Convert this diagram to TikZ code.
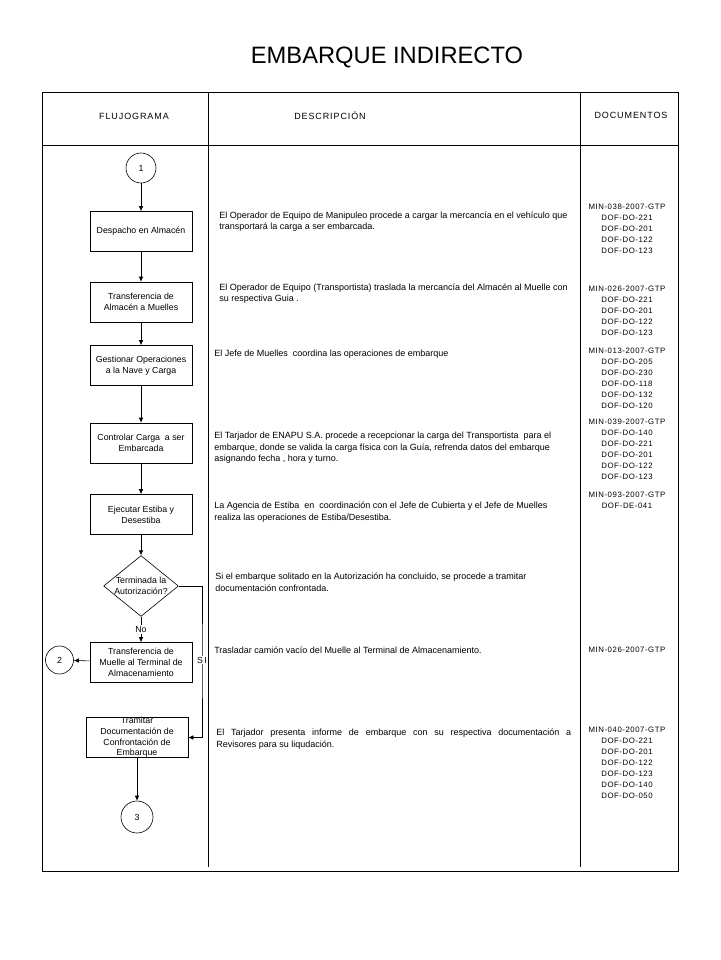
\documentclass[tikz,border=0pt]{standalone}
\usepackage{fontspec}
\setmainfont{Liberation Sans}
\usetikzlibrary{shapes.geometric,arrows.meta,positioning}

\begin{document}
\begin{tikzpicture}[
    x=1pt, y=-1pt,
    line width=0.6pt,
    proc/.style={rectangle, draw, align=center, minimum width=102pt, minimum height=40pt, inner sep=1pt, font=\fontsize{8.8}{11}\selectfont},
    conn/.style={circle, draw, minimum size=30pt, inner sep=0pt, font=\fontsize{8.8}{11}\selectfont},
    decide/.style={diamond, draw, align=center, aspect=1.23, inner sep=0pt, font=\fontsize{8.8}{11}\selectfont},
    flow/.style={draw, -{Latex[length=5pt,width=4.5pt]}},
    lbl/.style={fill=white, inner sep=1pt, font=\fontsize{8.8}{11}\selectfont},
    head/.style={anchor=base, font=\fontsize{9}{11}\selectfont\addfontfeature{LetterSpace=10}},
    desc/.style={anchor=north west, align=left, inner sep=0pt, font=\fontsize{9}{11.3}\selectfont},
    docs/.style={anchor=north, align=center, inner sep=0pt, font=\fontsize{7.8}{11}\selectfont\addfontfeature{LetterSpace=7}}
]
\useasboundingbox (0,0) rectangle (720,960);

% title and table frame
\node [anchor=base] (title) at (387,64) {\fontsize{23.7}{28}\selectfont EMBARQUE INDIRECTO};
\draw (42,92) rectangle (678,871);
\draw (42,145) -- (678,145);
\draw (208,92) -- (208,867);
\draw (580,92) -- (580,867);
\node [head] (hflujo) at (134,120) {FLUJOGRAMA};
\node [head] (hdesc) at (330,120) {DESCRIPCIÓN};
\node [head] (hdocs) at (631,118.5) {DOCUMENTOS};

% flujograma
\node [conn] (c1) at (141,168) {1};
\node [proc] (despacho) at (141,231.5) {Despacho en Almacén};
\node [proc] (transfalm) at (141,302) {Transferencia de\\Almacén a Muelles};
\node [proc] (gestionar) at (141,365.5) {Gestionar Operaciones\\a la Nave y Carga};
\node [proc] (controlar) at (141,443) {Controlar Carga \ a ser\\Embarcada};
\node [proc] (ejecutar) at (141,514.5) {Ejecutar Estiba y\\Desestiba};
\node [decide] (terminada) at (141,586) {Terminada la\\Autorización?};
\node [proc] (transfmue) at (141,662.5) {Transferencia de\\Muelle al Terminal de\\Almacenamiento};
\node [conn, minimum size=28pt] (c2) at (59.5,660) {2};
\node [proc, inner ysep=0pt, font=\fontsize{8.8}{10.6}\selectfont] (tramitar) at (137,737.5) {Tramitar\\Documentación de\\Confrontación de\\Embarque};
\node [conn, minimum size=32pt] (c3) at (137,817) {3};
\coordinate (sicol) at (202,660);

\draw [flow] (c1) -- (despacho);
\draw [flow] (despacho) -- (transfalm);
\draw [flow] (transfalm) -- (gestionar);
\draw [flow] (gestionar) -- (controlar);
\draw [flow] (controlar) -- (ejecutar);
\draw [flow] (ejecutar) -- (terminada);
\draw [flow] (terminada) -- node [lbl] (no) {No} (transfmue);
\draw [flow] (transfmue) -- (c2);
\draw [flow] (terminada.east) -| (sicol) |- (tramitar.east);
\node [lbl] (si) at (sicol) {S\,I};
\draw [flow] (tramitar) -- (c3);

% descripcion
\node [desc] (d1) at (219,211.5) {El Operador de Equipo de Manipuleo procede a cargar la mercancía en el vehículo que\\transportará la carga a ser embarcada.};
\node [desc] (d2) at (219,283.5) {El Operador de Equipo (Transportista) traslada la mercancía del Almacén al Muelle con\\su respectiva Guia .};
\node [desc] (d3) at (214,350) {El Jefe de Muelles \ coordina las operaciones de embarque};
\node [desc] (d4) at (214,432) {El Tarjador de ENAPU S.A. procede a recepcionar la carga del Transportista \ para el\\embarque, donde se valida la carga física con la Guía, refrenda datos del embarque\\asignando fecha , hora y turno.};
\node [desc] (d5) at (214,502) {La Agencia de Estiba \ en \ coordinación con el Jefe de Cubierta y el Jefe de Muelles\\realiza las operaciones de Estiba/Desestiba.};
\node [desc] (d6) at (215,573) {Si el embarque solitado en la Autorización ha concluido, se procede a tramitar\\documentación confrontada.};
\node [desc] (d7) at (214,647) {Trasladar camión vacío del Muelle al Terminal de Almacenamiento.};
\node [desc] (d8) at (216,729) {\makebox[355pt][s]{El Tarjador presenta informe de embarque con su respectiva documentación a}\\Revisores para su liqudación.};

% documentos
\node [docs] (g1) at (627,204) {MIN-038-2007-GTP\\DOF-DO-221\\DOF-DO-201\\DOF-DO-122\\DOF-DO-123};
\node [docs] (g2) at (627,286) {MIN-026-2007-GTP\\DOF-DO-221\\DOF-DO-201\\DOF-DO-122\\DOF-DO-123};
\node [docs] (g3) at (627,348) {MIN-013-2007-GTP\\DOF-DO-205\\DOF-DO-230\\DOF-DO-118\\DOF-DO-132\\DOF-DO-120};
\node [docs] (g4) at (627,419) {MIN-039-2007-GTP\\DOF-DO-140\\DOF-DO-221\\DOF-DO-201\\DOF-DO-122\\DOF-DO-123};
\node [docs] (g5) at (627,492) {MIN-093-2007-GTP\\DOF-DE-041};
\node [docs] (g6) at (627,647) {MIN-026-2007-GTP};
\node [docs] (g7) at (627,727) {MIN-040-2007-GTP\\DOF-DO-221\\DOF-DO-201\\DOF-DO-122\\DOF-DO-123\\DOF-DO-140\\DOF-DO-050};
\end{tikzpicture}
\end{document}
